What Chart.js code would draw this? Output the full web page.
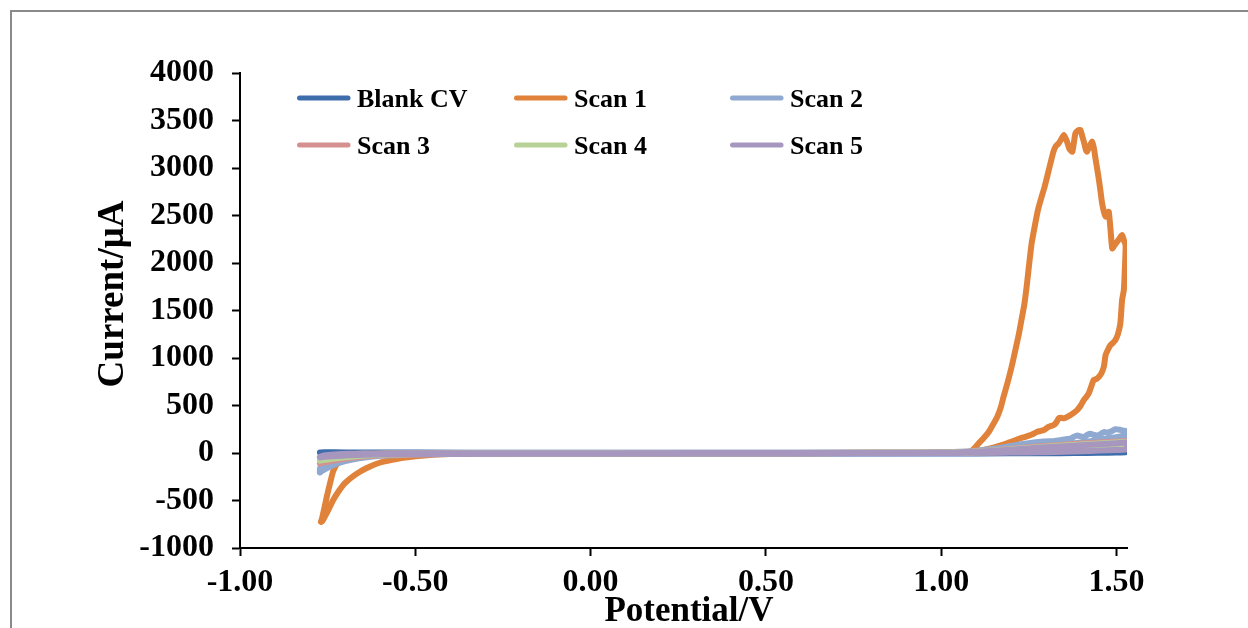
<!DOCTYPE html>
<html>
<head>
<meta charset="utf-8">
<script src="https://cdn.jsdelivr.net/npm/chart.js@4/dist/chart.umd.min.js"></script>
<style>
  html, body { margin: 0; padding: 0; background: #ffffff; }
  canvas { display: block; }
</style>
</head>
<body>
<canvas id="cv" width="1248" height="628"></canvas>
<script>
// Series names and tick labels
const seriesNames = ['Blank CV', 'Scan 1', 'Scan 2', 'Scan 3', 'Scan 4', 'Scan 5'];
const seriesColors = ['#3E6DAB', '#E0823A', '#8FA9D1', '#D4918F', '#B7D197', '#A797BE'];
const potentialTicks = [-1.0, -0.5, 0.0, 0.5, 1.0, 1.5];
const currentTicks = [-1000, -500, 0, 500, 1000, 1500, 2000, 2500, 3000, 3500, 4000];
const xAxisTitle = 'Potential/V';
const yAxisTitle = 'Current/\u03bcA';

// Blank CV (potential in V, current in µA)
const blankPotential = [-0.772, -0.76, -0.70, -0.50, -0.20, 0.20, 0.60, 1.00, 1.10, 1.20, 1.30, 1.38, 1.45, 1.50, 1.53,
  1.53, 1.50, 1.45, 1.38, 1.30, 1.10, 0.80, 0.40, 0.00, -0.40, -0.60, -0.72, -0.772];
const blankCurrent = [6, 8, 6, 4, 3, 2, 2, 3, 5, 8, 12, 17, 24, 32, 40,
  12, 6, 2, -1, -3, -4, -4, -4, -4, -4, -2, 2, 6];

// Scan 1
const scan1Potential = [
  -0.769, -0.766, -0.760, -0.753, -0.746, -0.740, -0.734, -0.726, -0.715, -0.700, -0.670, -0.620, -0.550, -0.450,
  -0.300, -0.100, 0.100, 0.300, 0.500, 0.700, 0.900, 1.000, 1.050, 1.083, 1.095, 1.107, 1.122, 1.136, 1.148, 1.160,
  1.170, 1.178, 1.190, 1.201, 1.212, 1.222, 1.230, 1.237, 1.244, 1.251, 1.258, 1.267, 1.276, 1.286, 1.295, 1.305,
  1.314, 1.320, 1.326, 1.335, 1.342, 1.350, 1.359, 1.366, 1.374, 1.379, 1.383, 1.390, 1.397, 1.402, 1.407, 1.412,
  1.416, 1.423, 1.431, 1.436, 1.440, 1.445, 1.450, 1.455, 1.459, 1.464, 1.469, 1.474, 1.478, 1.483, 1.488, 1.495,
  1.502, 1.509, 1.516, 1.521, 1.526,
  1.524, 1.521, 1.516, 1.511, 1.504, 1.497, 1.490, 1.483, 1.476, 1.469, 1.464, 1.457, 1.450, 1.443, 1.435, 1.428,
  1.421, 1.414, 1.407, 1.398, 1.388, 1.379, 1.369, 1.360, 1.350, 1.342, 1.335, 1.328, 1.321, 1.314, 1.307, 1.300,
  1.293, 1.284, 1.274, 1.265, 1.255, 1.240, 1.226, 1.207, 1.188, 1.165, 1.140, 1.115, 1.093, 1.070, 1.040, 1.000,
  0.800, 0.600, 0.400, 0.200, 0.000, -0.200, -0.400, -0.450, -0.500, -0.550, -0.600, -0.640, -0.670, -0.700,
  -0.720, -0.735, -0.748, -0.758, -0.765, -0.769
];
const scan1Current = [
  -725, -690, -590, -470, -360, -270, -190, -130, -80, -50, -25, -12, -6, -4,
  -3, -2, -1, 0, 0, 1, 2, 4, 8, 14, 50, 102, 160, 224, 300, 382,
  480, 593, 750, 909, 1090, 1260, 1420, 1560, 1760, 1990, 2207, 2390, 2558, 2690, 2803, 2950,
  3084, 3170, 3224, 3260, 3300, 3347, 3277, 3200, 3172, 3280, 3365, 3395, 3400, 3340, 3277, 3200,
  3172, 3230, 3277, 3200, 3102, 2990, 2874, 2740, 2628, 2540, 2488, 2520, 2540, 2350, 2154, 2190,
  2225, 2260, 2295, 2240, 2189,
  1950, 1716, 1611, 1365, 1250, 1189, 1160, 1137, 1090, 1032, 909, 840, 803, 780, 768, 700,
  628, 590, 558, 500, 453, 425, 400, 380, 365, 370, 365, 320, 295, 285, 277, 260,
  242, 232, 224, 205, 189, 170, 155, 128, 102, 75, 49, 28, 14, 7, 4, 2,
  0, -2, -3, -4, -5, -6, -10, -18, -35, -60, -100, -160, -225, -315,
  -410, -500, -600, -670, -715, -725
];

// Scan 2
const scan2Potential = [
  -0.772, -0.772, -0.768, -0.760, -0.750, -0.735, -0.715, -0.690, -0.650, -0.600, -0.500, -0.300, 0.000, 0.300,
  0.600, 0.900, 1.000, 1.050, 1.100, 1.150, 1.200, 1.245, 1.293, 1.320, 1.340, 1.355, 1.369, 1.378, 1.388, 1.398,
  1.407, 1.416, 1.426, 1.436, 1.446, 1.455, 1.464, 1.474, 1.484, 1.497, 1.510, 1.520, 1.528,
  1.530, 1.525, 1.510, 1.490, 1.460, 1.430, 1.400, 1.360, 1.320, 1.280, 1.240, 1.200, 1.150, 1.100, 1.050, 1.000,
  0.600, 0.200, -0.200, -0.400, -0.500, -0.600, -0.660, -0.700, -0.730, -0.750, -0.765, -0.772
];
const scan2Current = [
  -205, -170, -130, -110, -100, -85, -60, -38, -22, -12, -6, -3, -2, -1,
  0, 3, 5, 12, 25, 45, 75, 100, 120, 125, 135, 145, 150, 170, 185, 175,
  168, 190, 202, 190, 185, 200, 220, 215, 225, 250, 245, 235, 230,
  200, 185, 175, 160, 145, 128, 112, 95, 78, 62, 48, 35, 20, 10, 4, 1,
  -3, -5, -6, -10, -15, -30, -55, -85, -120, -155, -185, -205
];

// Scan 3
const scan3Potential = [
  -0.772, -0.770, -0.765, -0.755, -0.740, -0.720, -0.690, -0.650, -0.580, -0.500, -0.200, 0.300, 0.800, 1.000,
  1.050, 1.100, 1.150, 1.200, 1.250, 1.300, 1.350, 1.400, 1.450, 1.500, 1.530,
  1.530, 1.500, 1.450, 1.400, 1.350, 1.300, 1.250, 1.200, 1.150, 1.100, 1.050, 1.000, 0.500, 0.000, -0.400,
  -0.500, -0.580, -0.640, -0.690, -0.725, -0.750, -0.765, -0.772
];
const scan3Current = [
  -110, -85, -70, -55, -40, -28, -18, -12, -7, -5, -3, -1, 2, 3,
  8, 18, 30, 45, 60, 75, 88, 100, 110, 120, 125,
  95, 80, 62, 48, 37, 28, 20, 14, 9, 5, 2, 1, -2, -4, -8,
  -12, -20, -35, -55, -75, -92, -104, -110
];

// Scan 4
const scan4Potential = [
  -0.772, -0.770, -0.765, -0.755, -0.740, -0.720, -0.690, -0.650, -0.580, -0.500, -0.200, 0.300, 0.800, 1.000,
  1.050, 1.100, 1.150, 1.200, 1.250, 1.300, 1.350, 1.400, 1.450, 1.500, 1.530,
  1.530, 1.500, 1.450, 1.400, 1.350, 1.300, 1.250, 1.200, 1.150, 1.100, 1.050, 1.000, 0.500, 0.000, -0.400,
  -0.500, -0.580, -0.640, -0.690, -0.725, -0.750, -0.765, -0.772
];
const scan4Current = [
  -80, -62, -50, -40, -30, -21, -14, -9, -6, -4, -3, -1, 2, 3,
  7, 15, 26, 40, 54, 67, 80, 90, 100, 110, 115,
  85, 70, 55, 42, 32, 24, 17, 12, 8, 4, 2, 1, -2, -4, -7,
  -10, -16, -27, -42, -56, -68, -76, -80
];

// Scan 5
const scan5Potential = [
  -0.772, -0.770, -0.765, -0.755, -0.740, -0.720, -0.690, -0.650, -0.580, -0.500, -0.200, 0.300, 0.800, 1.000,
  1.050, 1.100, 1.150, 1.200, 1.250, 1.300, 1.350, 1.400, 1.450, 1.500, 1.530,
  1.530, 1.500, 1.450, 1.400, 1.350, 1.300, 1.250, 1.200, 1.150, 1.100, 1.050, 1.000, 0.500, 0.000, -0.400,
  -0.500, -0.580, -0.640, -0.690, -0.725, -0.750, -0.765, -0.772
];
const scan5Current = [
  -45, -36, -30, -24, -18, -13, -9, -6, -4, -3, -2, -1, 1, 2,
  6, 13, 23, 35, 48, 60, 72, 82, 92, 102, 110,
  40, 32, 25, 18, 12, 8, 6, 4, 3, 2, 1, 0, -4, -8, -10,
  -11, -13, -18, -25, -32, -38, -43, -45
];

const potentialSets = [blankPotential, scan1Potential, scan2Potential, scan3Potential, scan4Potential, scan5Potential];
const currentSets = [blankCurrent, scan1Current, scan2Current, scan3Current, scan4Current, scan5Current];

const SERIF = '"Liberation Serif", "Times New Roman", serif';

function toPoints(xs, ys) {
  return xs.map((x, i) => ({ x: x, y: ys[i] }));
}

// Chart frame, legend grid and axis titles
const decorations = {
  id: 'decorations',
  beforeDraw(chart) {
    const ctx = chart.ctx;
    ctx.save();
    ctx.fillStyle = '#ffffff';
    ctx.fillRect(0, 0, chart.width, chart.height);
    ctx.strokeStyle = '#8a8a8a';
    ctx.lineWidth = 2;
    ctx.beginPath();
    ctx.moveTo(11, chart.height + 5);
    ctx.lineTo(11, 11);
    ctx.lineTo(chart.width + 5, 11);
    ctx.stroke();
    ctx.restore();
  },
  afterDraw(chart) {
    const ctx = chart.ctx;
    ctx.save();
    // legend: three columns, two rows
    const colX = [297, 514, 730];
    const rowY = [98, 145];
    ctx.font = 'bold 26px ' + SERIF;
    ctx.textAlign = 'left';
    ctx.textBaseline = 'alphabetic';
    chart.data.datasets.forEach((ds, i) => {
      const x = colX[i % 3];
      const y = rowY[Math.floor(i / 3)];
      ctx.strokeStyle = ds.borderColor;
      ctx.lineWidth = 5;
      ctx.lineCap = 'round';
      ctx.beginPath();
      ctx.moveTo(x + 2.5, y);
      ctx.lineTo(x + 51, y);
      ctx.stroke();
      ctx.fillStyle = '#000000';
      ctx.fillText(ds.label, x + 60, y + 8.5);
    });
    // axis titles
    ctx.fillStyle = '#000000';
    ctx.textAlign = 'center';
    ctx.font = 'bold 35px ' + SERIF;
    ctx.fillText(xAxisTitle, 689, 621);
    ctx.translate(123, 294);
    ctx.rotate(-Math.PI / 2);
    ctx.font = 'bold 37px ' + SERIF;
    ctx.fillText(yAxisTitle, 0, 0);
    ctx.restore();
  }
};

function build() {
  const datasets = seriesNames.map((name, i) => ({
    label: name,
    data: toPoints(potentialSets[i], currentSets[i]),
    borderColor: seriesColors[i],
    backgroundColor: seriesColors[i],
    borderWidth: 6,
    borderCapStyle: 'round',
    borderJoinStyle: 'round',
    pointRadius: 0,
    pointHoverRadius: 0,
    showLine: true,
    fill: false,
    tension: 0.2,
    order: seriesNames.length - i
  }));

  new Chart(document.getElementById('cv'), {
    type: 'scatter',
    data: { datasets: datasets },
    plugins: [decorations],
    options: {
      responsive: false,
      animation: false,
      events: [],
      layout: { padding: { left: 0, right: 121, top: 73, bottom: 0 } },
      plugins: {
        legend: { display: false },
        tooltip: { enabled: false },
        title: { display: false }
      },
      scales: {
        x: {
          type: 'linear',
          min: -1.0,
          max: 1.53,
          afterBuildTicks(scale) { scale.ticks = potentialTicks.map(v => ({ value: v })); },
          afterFit(scale) { scale.height = 80; },
          grid: { drawOnChartArea: false, drawTicks: true, tickLength: 8, tickWidth: 2, tickColor: '#000000' },
          border: { display: true, color: '#000000', width: 2 },
          ticks: {
            color: '#000000',
            padding: 8,
            maxRotation: 0,
            autoSkip: false,
            font: { family: SERIF, size: 32, weight: 'bold' },
            callback: v => Number(v).toFixed(2)
          }
        },
        y: {
          type: 'linear',
          min: -1000,
          max: 4000,
          afterBuildTicks(scale) { scale.ticks = currentTicks.map(v => ({ value: v })); },
          afterFit(scale) { scale.width = 240; },
          grid: { drawOnChartArea: false, drawTicks: true, tickLength: 8, tickWidth: 2, tickColor: '#000000' },
          border: { display: true, color: '#000000', width: 2 },
          ticks: {
            color: '#000000',
            padding: 18,
            autoSkip: false,
            font: { family: SERIF, size: 32, weight: 'bold' },
            callback: v => String(v)
          }
        }
      }
    }
  });
}

if (document.fonts && document.fonts.load) {
  document.fonts.load('bold 32px "Liberation Serif"').then(build, build);
} else {
  build();
}
</script>
</body>
</html>
